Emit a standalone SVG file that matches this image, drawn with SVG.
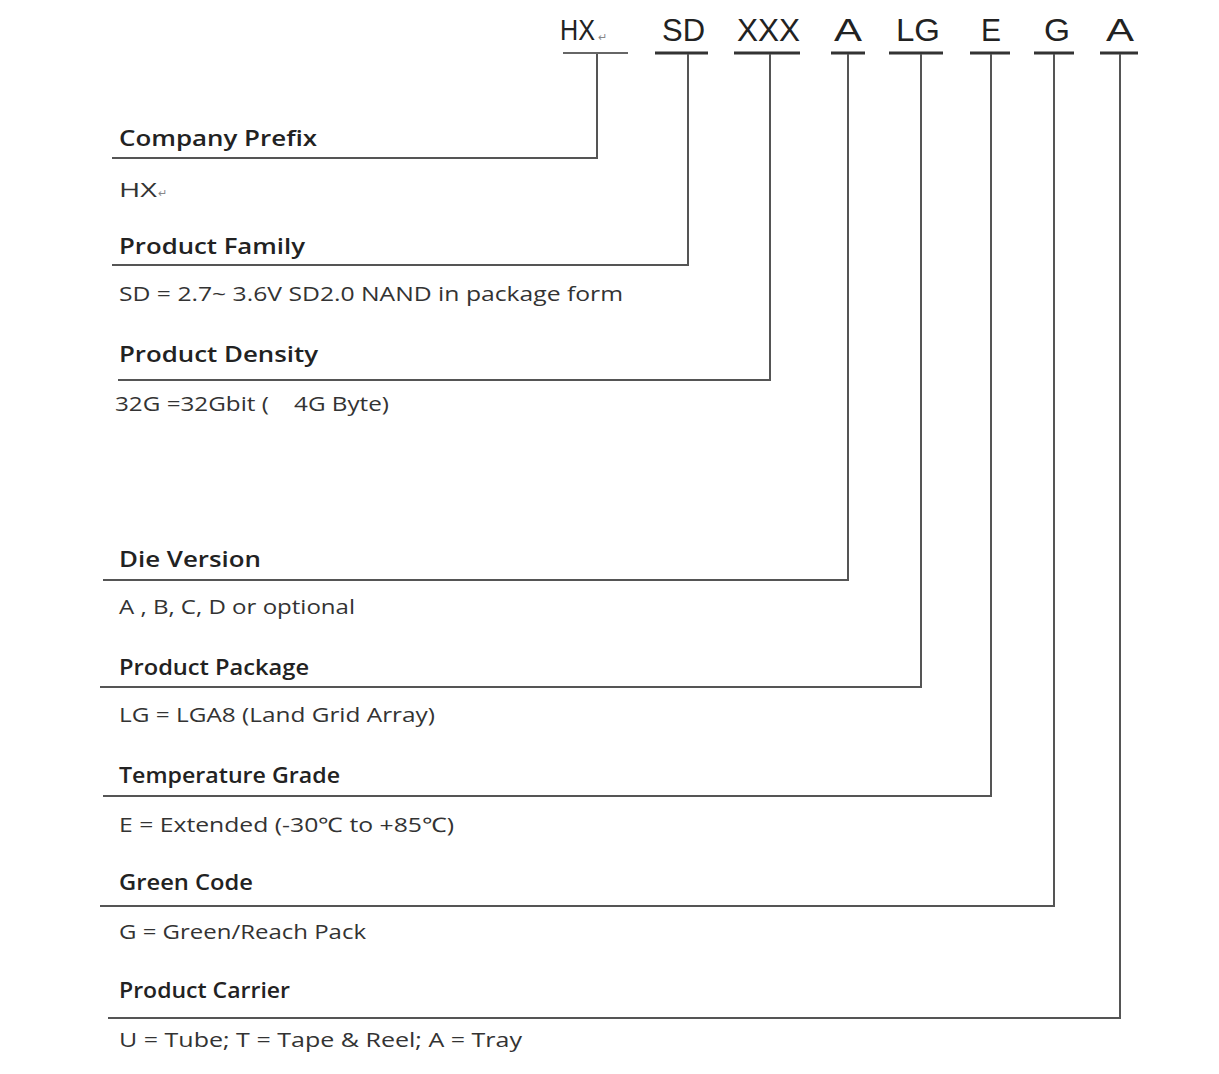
<svg xmlns="http://www.w3.org/2000/svg" width="1219" height="1074" viewBox="0 0 1219 1074">
<style>
.code{font-family:"Liberation Sans",Arial,sans-serif;font-size:32px;fill:#222;}
.hd{font-family:"Open Sans","Liberation Sans",sans-serif;font-size:22px;font-weight:600;fill:#222;}
.ds{font-family:"Open Sans","Liberation Sans",sans-serif;font-size:20px;fill:#333;}
.ul{stroke:#333;stroke-width:3;}
.ret{font-size:11px;fill:#888;}
.conn{fill:none;stroke:#555;stroke-width:2;}
</style>
<rect width="1219" height="1074" fill="#fff"/>
<g id="codes">
<g id="code-hx"><text class="code" x="560" y="40" textLength="35" lengthAdjust="spacingAndGlyphs" style="font-size:29px">HX</text><text class="code ret" x="598" y="41">↵</text><line class="ul" x1="563" y1="53" x2="628" y2="53" style="stroke-width:1.5"/></g>
<g id="code-sd"><text class="code" x="662" y="41" textLength="43" lengthAdjust="spacingAndGlyphs">SD</text><line class="ul" x1="655" y1="53" x2="708" y2="53"/></g>
<g id="code-xxx"><text class="code" x="737" y="41" textLength="63" lengthAdjust="spacingAndGlyphs">XXX</text><line class="ul" x1="734" y1="53" x2="800" y2="53"/></g>
<g id="code-a"><text class="code" x="834" y="41" textLength="28" lengthAdjust="spacingAndGlyphs">A</text><line class="ul" x1="831" y1="53" x2="865" y2="53"/></g>
<g id="code-lg"><text class="code" x="896" y="41" textLength="44" lengthAdjust="spacingAndGlyphs">LG</text><line class="ul" x1="889" y1="53" x2="943" y2="53"/></g>
<g id="code-e"><text class="code" x="981" y="41" textLength="20" lengthAdjust="spacingAndGlyphs">E</text><line class="ul" x1="970" y1="53" x2="1010" y2="53"/></g>
<g id="code-g"><text class="code" x="1044" y="41" textLength="26" lengthAdjust="spacingAndGlyphs">G</text><line class="ul" x1="1034" y1="53" x2="1074" y2="53"/></g>
<g id="code-a2"><text class="code" x="1106" y="41" textLength="28" lengthAdjust="spacingAndGlyphs">A</text><line class="ul" x1="1100" y1="53" x2="1138" y2="53"/></g>
</g>
<g id="connectors">
<polyline class="conn" points="597,54 597,158 112,158"/>
<polyline class="conn" points="688,54 688,265 112,265"/>
<polyline class="conn" points="770,54 770,380 118,380"/>
<polyline class="conn" points="848,54 848,580 103,580"/>
<polyline class="conn" points="921,54 921,687 100,687"/>
<polyline class="conn" points="991,54 991,796 103,796"/>
<polyline class="conn" points="1054,54 1054,906 100,906"/>
<polyline class="conn" points="1120,54 1120,1018 108,1018"/>
</g>
<g id="node-company">
<text class="hd" x="119" y="146" textLength="198" lengthAdjust="spacingAndGlyphs">Company Prefix</text>
<text class="ds" x="119" y="197" textLength="38" lengthAdjust="spacingAndGlyphs">HX</text><text class="ds ret" x="158" y="197">↵</text>
</g>
<g id="node-family">
<text class="hd" x="119" y="254" textLength="186" lengthAdjust="spacingAndGlyphs">Product Family</text>
<text class="ds" x="119" y="301" textLength="504" lengthAdjust="spacingAndGlyphs">SD = 2.7~ 3.6V SD2.0 NAND in package form</text>
</g>
<g id="node-density">
<text class="hd" x="119" y="362" textLength="199" lengthAdjust="spacingAndGlyphs">Product Density</text>
<text class="ds" x="115" y="411" textLength="274" lengthAdjust="spacingAndGlyphs" xml:space="preserve">32G =32Gbit (    4G Byte)</text>
</g>
<g id="node-die">
<text class="hd" x="119" y="567" textLength="142" lengthAdjust="spacingAndGlyphs">Die Version</text>
<text class="ds" x="119" y="614" textLength="236" lengthAdjust="spacingAndGlyphs">A , B, C, D or optional</text>
</g>
<g id="node-package">
<text class="hd" x="119" y="675" textLength="190" lengthAdjust="spacingAndGlyphs">Product Package</text>
<text class="ds" x="119" y="722" textLength="316" lengthAdjust="spacingAndGlyphs">LG = LGA8 (Land Grid Array)</text>
</g>
<g id="node-temp">
<text class="hd" x="119" y="783" textLength="221" lengthAdjust="spacingAndGlyphs">Temperature Grade</text>
<text class="ds" x="119" y="832" textLength="335" lengthAdjust="spacingAndGlyphs">E = Extended (-30℃ to +85℃)</text>
</g>
<g id="node-green">
<text class="hd" x="119" y="890" textLength="134" lengthAdjust="spacingAndGlyphs">Green Code</text>
<text class="ds" x="119" y="939" textLength="247" lengthAdjust="spacingAndGlyphs">G = Green/Reach Pack</text>
</g>
<g id="node-carrier">
<text class="hd" x="119" y="998" textLength="171" lengthAdjust="spacingAndGlyphs">Product Carrier</text>
<text class="ds" x="119" y="1047" textLength="403" lengthAdjust="spacingAndGlyphs">U = Tube; T = Tape &amp; Reel; A = Tray</text>
</g>
</svg>
